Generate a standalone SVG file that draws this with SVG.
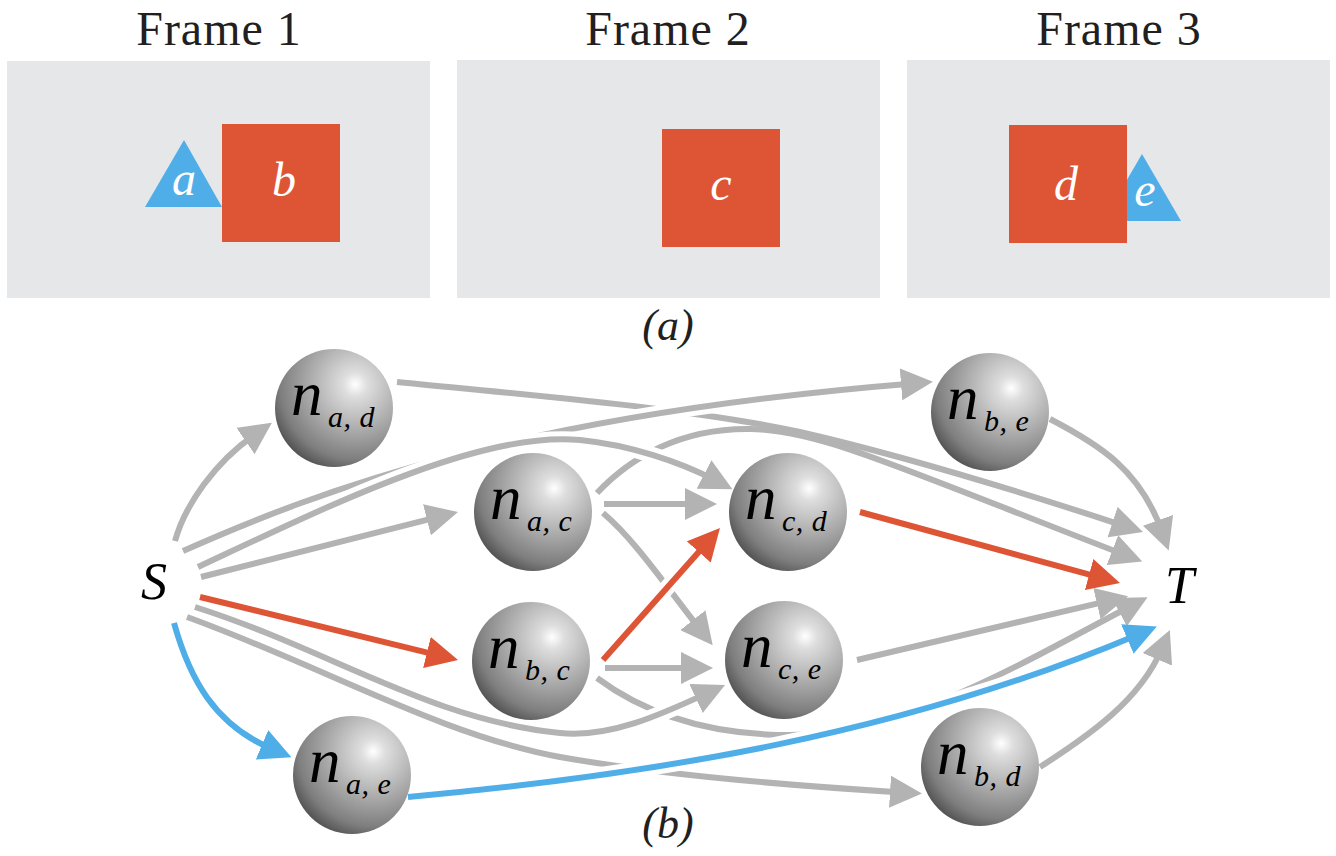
<svg xmlns="http://www.w3.org/2000/svg" width="1336" height="856" viewBox="0 0 1336 856" font-family="Liberation Serif, serif">
<style>
.title{font-size:48px;fill:#231f20;text-anchor:middle;letter-spacing:1px}
.shape-lbl{font-style:italic;font-size:48px;fill:#ffffff;text-anchor:middle}
.cap{font-style:italic;font-size:44px;fill:#231f20;text-anchor:middle}
.term{font-style:italic;font-size:52px;fill:#000}
.n{font-style:italic;font-size:63px;fill:#000}
.sub{font-style:italic;font-size:30px;fill:#000;letter-spacing:0.5px}
.frame{fill:#e6e7e8}
.red{fill:#de5535}
.blue{fill:#4faee8}
.e{fill:none;stroke-width:6;stroke-linecap:butt}
.g{stroke:#b3b3b3;marker-end:url(#ah-g)}
.r{stroke:#de5535;marker-end:url(#ah-r)}
.b{stroke:#4faee8;marker-end:url(#ah-b)}
.case{fill:none;stroke:#fff;stroke-width:16}
.sphere{fill:url(#sph)}
</style>
<defs>
<radialGradient id="sph" cx="0.68" cy="0.3" r="0.85" fx="0.68" fy="0.3">
<stop offset="0" stop-color="#ffffff"/>
<stop offset="0.12" stop-color="#dedede"/>
<stop offset="0.45" stop-color="#acacac"/>
<stop offset="0.75" stop-color="#7e7e7e"/>
<stop offset="1" stop-color="#383838"/>
</radialGradient>
<marker id="ah-g" markerUnits="userSpaceOnUse" markerWidth="32" markerHeight="32" viewBox="0 0 32 32" refX="12" refY="16" orient="auto"><path d="M0,0 L32,16 L0,32 z" fill="#b3b3b3"/></marker>
<marker id="ah-r" markerUnits="userSpaceOnUse" markerWidth="32" markerHeight="32" viewBox="0 0 32 32" refX="12" refY="16" orient="auto"><path d="M0,0 L32,16 L0,32 z" fill="#de5535"/></marker>
<marker id="ah-b" markerUnits="userSpaceOnUse" markerWidth="32" markerHeight="32" viewBox="0 0 32 32" refX="12" refY="16" orient="auto"><path d="M0,0 L32,16 L0,32 z" fill="#4faee8"/></marker>
</defs>
<rect width="1336" height="856" fill="#fff"/>

<g id="frame1">
<text class="title" x="219" y="45" style="font-family:'Liberation Serif',serif">Frame 1</text>
<rect class="frame" x="7" y="61" width="423" height="237"/>
<polygon class="blue" points="145,207 184,140 222,207"/>
<rect class="red" x="222" y="124" width="118" height="118"/>
<text class="shape-lbl" x="184" y="195" style="font-family:'Liberation Serif',serif">a</text>
<text class="shape-lbl" x="284" y="196" style="font-family:'Liberation Serif',serif">b</text>
</g>
<g id="frame2">
<text class="title" x="668" y="45" style="font-family:'Liberation Serif',serif">Frame 2</text>
<rect class="frame" x="457" y="60" width="423" height="238"/>
<rect class="red" x="662" y="129" width="118" height="118"/>
<text class="shape-lbl" x="721" y="200" style="font-family:'Liberation Serif',serif">c</text>
</g>
<g id="frame3">
<text class="title" x="1119" y="45" style="font-family:'Liberation Serif',serif">Frame 3</text>
<rect class="frame" x="907" y="60" width="423" height="238"/>
<polygon class="blue" points="1103,221 1142,154 1181,221"/>
<rect class="red" x="1009" y="125" width="118" height="118"/>
<text class="shape-lbl" x="1066" y="200" style="font-family:'Liberation Serif',serif">d</text>
<text class="shape-lbl" x="1145" y="206" style="font-family:'Liberation Serif',serif">e</text>
</g>
<text class="cap" x="668" y="340" style="font-family:'Liberation Serif',serif">(a)</text>

<g id="connectors">
<path class="e g" d="M397,382 C560,398 700,410 800,432 C900,455 1000,485 1124,525.8"/>
<path class="e g" d="M597,493 C630,458 680,428 750,429 C820,430 900,468 1123.6,554.4"/>
<path class="e g" d="M603,513 C635,540 665,585 700.3,629.6"/>
<path class="e g" d="M597,678 C640,710 700,735 790,735 C900,735 1010,670 1129.9,606.5"/>
<path class="e g" d="M187,617 C320,665 440,735 560,757 C650,773 780,785 902,792.4"/>
<path class="case" d="M183,551 C320,490 520,415 913,383.4"/>
<path class="e g" d="M183,551 C320,490 520,415 913,383.4"/>
<path class="case" d="M198,567 C320,510 480,430 580,440 C630,445 680,462 714.7,480"/>
<path class="e g" d="M198,567 C320,510 480,430 580,440 C630,445 680,462 714.7,480"/>
<path class="case" d="M603,660 L706.7,543"/>
<path class="e r" d="M603,660 L706.7,543"/>
<path class="case" d="M195,607 C330,650 430,720 560,733 C610,738 660,715 706.9,693.4"/>
<path class="e g" d="M195,607 C330,650 430,720 560,733 C610,738 660,715 706.9,693.4"/>
<path class="case" d="M408,797 C650,775 900,735 1138.4,634.4"/>
<path class="e b" d="M408,797 C650,775 900,735 1138.4,634.4"/>
<path class="e g" d="M175,541 C185,505 215,462 255.4,434.2"/>
<path class="e g" d="M201,577 L438.6,516.9"/>
<path class="e r" d="M200,597 L438.6,655.3"/>
<path class="e b" d="M174,623 C190,680 215,725 273,749.5"/>
<path class="e g" d="M604,504 L697,504"/>
<path class="e g" d="M605,668 L693,668"/>
<path class="e g" d="M1050,419 C1100,445 1140,470 1162,531.6"/>
<path class="e r" d="M860,512 L1100.7,577.7"/>
<path class="e g" d="M857,660 L1108.6,600.9"/>
<path class="e g" d="M1040,767 C1090,735 1140,700 1162,648.3"/>
</g>

<g id="S"><text class="term" x="141" y="599" style="font-family:'Liberation Serif',serif">S</text></g>
<g id="T"><text class="term" x="1165" y="603" style="font-family:'Liberation Serif',serif">T</text></g>

<g id="n_ad"><circle class="sphere" cx="334" cy="408" r="59"/><text class="n" x="291" y="415" style="font-family:'Liberation Serif',serif">n</text><text class="sub" x="328" y="427" style="font-family:'Liberation Serif',serif">a, d</text></g>
<g id="n_ac"><circle class="sphere" cx="533" cy="512" r="59"/><text class="n" x="490" y="519" style="font-family:'Liberation Serif',serif">n</text><text class="sub" x="527" y="531" style="font-family:'Liberation Serif',serif">a, c</text></g>
<g id="n_cd"><circle class="sphere" cx="788" cy="512" r="59"/><text class="n" x="745" y="519" style="font-family:'Liberation Serif',serif">n</text><text class="sub" x="782" y="531" style="font-family:'Liberation Serif',serif">c, d</text></g>
<g id="n_be"><circle class="sphere" cx="990" cy="412" r="59"/><text class="n" x="947" y="419" style="font-family:'Liberation Serif',serif">n</text><text class="sub" x="984" y="431" style="font-family:'Liberation Serif',serif">b, e</text></g>
<g id="n_bc"><circle class="sphere" cx="531" cy="661" r="59"/><text class="n" x="488" y="668" style="font-family:'Liberation Serif',serif">n</text><text class="sub" x="525" y="680" style="font-family:'Liberation Serif',serif">b, c</text></g>
<g id="n_ce"><circle class="sphere" cx="784" cy="660" r="59"/><text class="n" x="741" y="667" style="font-family:'Liberation Serif',serif">n</text><text class="sub" x="778" y="679" style="font-family:'Liberation Serif',serif">c, e</text></g>
<g id="n_ae"><circle class="sphere" cx="352" cy="775" r="59"/><text class="n" x="309" y="782" style="font-family:'Liberation Serif',serif">n</text><text class="sub" x="346" y="794" style="font-family:'Liberation Serif',serif">a, e</text></g>
<g id="n_bd"><circle class="sphere" cx="980" cy="767" r="59"/><text class="n" x="937" y="774" style="font-family:'Liberation Serif',serif">n</text><text class="sub" x="974" y="786" style="font-family:'Liberation Serif',serif">b, d</text></g>

<text class="cap" x="668" y="838" style="font-family:'Liberation Serif',serif">(b)</text>
</svg>
